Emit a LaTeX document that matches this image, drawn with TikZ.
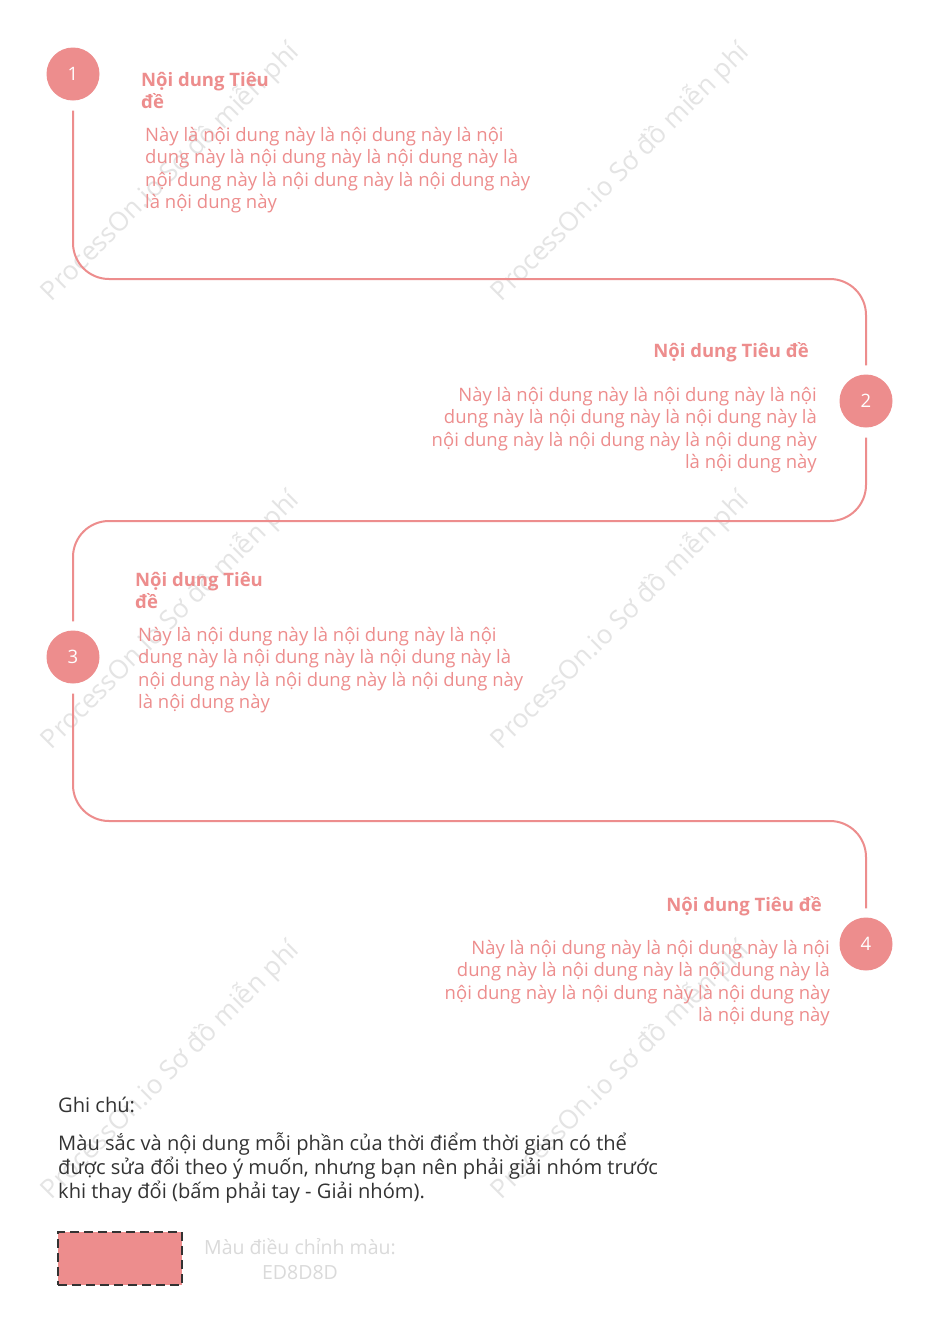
\documentclass[tikz,border=0pt]{standalone}
\usepackage{fontspec}
\setmainfont{Open Sans}
\definecolor{salmon}{HTML}{ED8D8D}
\definecolor{notegray}{HTML}{333333}
\definecolor{wm}{HTML}{E4E4E4}
\definecolor{lightlbl}{HTML}{DADADA}
\begin{document}
\begin{tikzpicture}[x=1pt,y=-1pt,
  numcirc/.style={circle,fill=salmon,minimum size=53pt,inner sep=0pt,text=white,font=\fontsize{18.5}{20}\selectfont},
  conn/.style={draw=salmon,line width=2pt,rounded corners=36pt,shorten <=10pt,shorten >=9pt},
  ttl/.style={text=salmon,inner sep=0pt,font=\fontsize{18.5}{22}\selectfont\bfseries},
  body/.style={text=salmon,inner sep=0pt,font=\fontsize{18.5}{22.5}\selectfont},
  note/.style={text=notegray,inner sep=0pt,align=left,font=\fontsize{20.1}{24}\selectfont},
  wmark/.style={text=wm,rotate=45,inner sep=0pt,font=\fontsize{26.3}{28}\selectfont}]
\useasboundingbox[fill=white] (0,0) rectangle (940,1326);

% watermarks
\foreach \wx/\wy [count=\i] in {170/172,620/172,170/620,620/620,170/1070,620/1070}
  \node[wmark] (wm\i) at (\wx,\wy) {ProcessOn.io Sơ đồ miễn phí};

% circles
\node[numcirc] (c1) at (73,74) {1};
\node[numcirc] (c2) at (866,401) {2};
\node[numcirc] (c3) at (73,657) {3};
\node[numcirc] (c4) at (866,944) {4};

% connectors
\draw[conn] (c1.south) -- (73,279) -- (866,279) -- (c2.north);
\draw[conn] (c2.south) -- (866,521) -- (73,521) -- (c3.north);
\draw[conn] (c3.south) -- (73,821) -- (866,821) -- (c4.north);

% block 1
\node[ttl,anchor=north west,align=left] (t1) at (141,72) {Nội dung Tiêu\\đề};
\node[body,anchor=north west,align=left] (b1) at (145,127) {Này là nội dung này là nội dung này là nội\\dung này là nội dung này là nội dung này là\\nội dung này là nội dung này là nội dung này\\là nội dung này};

% block 2
\node[ttl,anchor=north east,align=right] (t2) at (809,342) {Nội dung Tiêu đề};
\node[body,anchor=north east,align=right] (b2) at (817,387) {Này là nội dung này là nội dung này là nội\\dung này là nội dung này là nội dung này là\\nội dung này là nội dung này là nội dung này\\là nội dung này};

% block 3
\node[ttl,anchor=north west,align=left] (t3) at (135,572) {Nội dung Tiêu\\đề};
\node[body,anchor=north west,align=left] (b3) at (138,627) {Này là nội dung này là nội dung này là nội\\dung này là nội dung này là nội dung này là\\nội dung này là nội dung này là nội dung này\\là nội dung này};

% block 4
\node[ttl,anchor=north east,align=right] (t4) at (822,896) {Nội dung Tiêu đề};
\node[body,anchor=north east,align=right] (b4) at (830,940) {Này là nội dung này là nội dung này là nội\\dung này là nội dung này là nội dung này là\\nội dung này là nội dung này là nội dung này\\là nội dung này};

% notes
\node[note,anchor=north west] (n1) at (58,1097) {Ghi chú:};
\node[note,anchor=north west] (n2) at (58,1133) {Màu sắc và nội dung mỗi phần của thời điểm thời gian có thể\\được sửa đổi theo ý muốn, nhưng bạn nên phải giải nhóm trước\\khi thay đổi (bấm phải tay - Giải nhóm).};

% colour swatch
\node[draw=notegray,dash pattern=on 9pt off 5pt,line width=2pt,fill=salmon,minimum width=124pt,minimum height=53pt,inner sep=0pt] (sw) at (120,1258.5) {};
\node[text=lightlbl,align=center,inner sep=0pt,font=\fontsize{19.5}{25}\selectfont] (swl) at (300,1259) {Màu điều chỉnh màu:\\ED8D8D};
\end{tikzpicture}
\end{document}
